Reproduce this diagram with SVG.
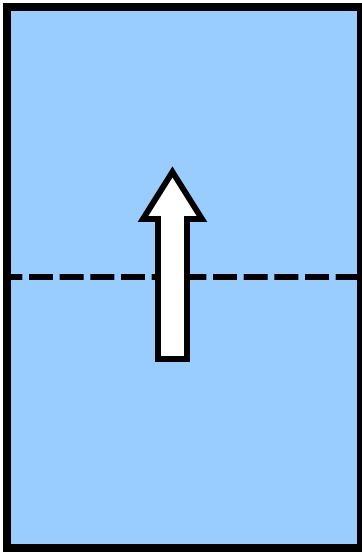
<svg xmlns="http://www.w3.org/2000/svg" width="362" height="553" viewBox="0 0 362 553">
<style>
.frame{fill:#99ccff;stroke:#000;stroke-width:8}
.dash{stroke:#000;stroke-width:6;stroke-dasharray:24 6.67;stroke-dashoffset:8.67;fill:none}
.arrow{fill:#fff;stroke:#000;stroke-width:6;stroke-linejoin:miter;stroke-miterlimit:10}
</style>
<g id="frame"><rect class="frame" x="7" y="7" width="354" height="541"/></g>
<g id="connectors"><line class="dash" x1="7" y1="277" x2="357" y2="277"/></g>
<g id="arrow"><polygon class="arrow" points="172.5,172 202,219 187,219 187,359 158,359 158,219 143,219"/></g>
</svg>
